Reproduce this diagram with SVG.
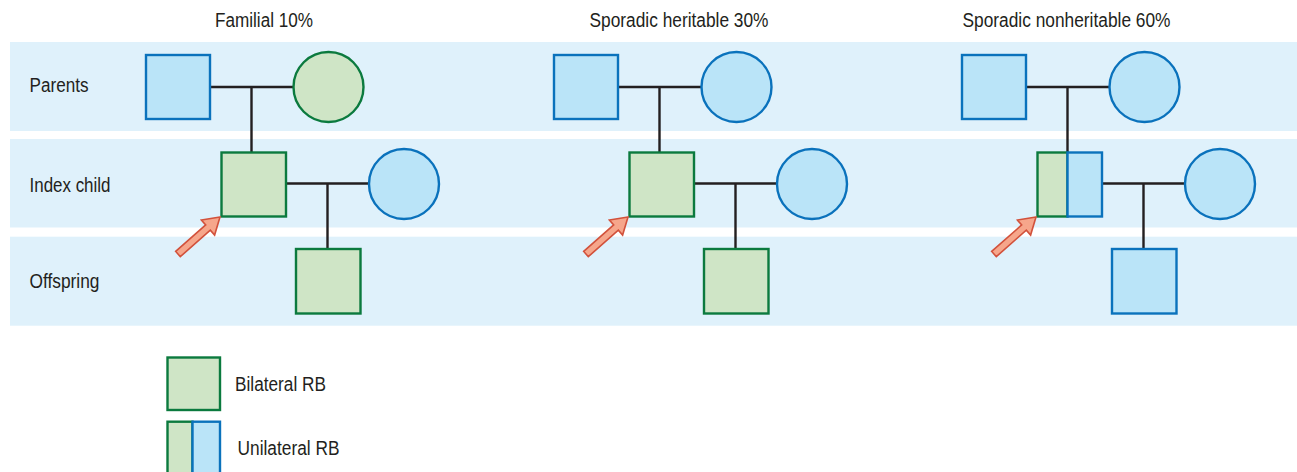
<svg xmlns="http://www.w3.org/2000/svg" width="1297" height="472" viewBox="0 0 1297 472">
<style>
.band{fill:#dff1fb}
.txt{font-family:"Liberation Sans Narrow","Liberation Sans",Arial,sans-serif;font-size:20px;fill:#231f20}
.blue{fill:#bae4f8;stroke:#0a72bc;stroke-width:2.4}
.green{fill:#cfe5c6;stroke:#0b7a3e;stroke-width:2.4}
.ln{stroke:#231f20;stroke-width:2.4;fill:none}
.arrow{fill:#f6a68b;stroke:#d2513b;stroke-width:1.6;stroke-linejoin:miter}
</style>
<defs>
<polygon id="arr" class="arrow" points="0,0 -16,-10 -16,-3.5 -56,-3.5 -56,3.5 -16,3.5 -16,10"/>
</defs>
<rect width="1297" height="472" fill="#ffffff"/>
<g id="bands">
<rect class="band" x="10" y="42" width="1287" height="89"/>
<rect class="band" x="10" y="139" width="1287" height="88.5"/>
<rect class="band" x="10" y="236.7" width="1287" height="89"/>
</g>
<g id="titles">
<text class="txt" x="215" y="26.7" textLength="98" lengthAdjust="spacingAndGlyphs">Familial 10%</text>
<text class="txt" x="589.5" y="26.7" textLength="179" lengthAdjust="spacingAndGlyphs">Sporadic heritable 30%</text>
<text class="txt" x="962.5" y="26.7" textLength="208" lengthAdjust="spacingAndGlyphs">Sporadic nonheritable 60%</text>
</g>
<g id="row-labels">
<text class="txt" x="29.5" y="91.5" textLength="59" lengthAdjust="spacingAndGlyphs">Parents</text>
<text class="txt" x="29.5" y="192" textLength="81" lengthAdjust="spacingAndGlyphs">Index child</text>
<text class="txt" x="29.5" y="288" textLength="70" lengthAdjust="spacingAndGlyphs">Offspring</text>
</g>
<g id="connectors">
<path class="ln" d="M210,87 H293.5 M251.5,87 V152.5 M286,183.5 H369 M327.5,183.5 V249"/>
<path class="ln" d="M618,87 H701.5 M659.5,87 V152.5 M694,183.5 H777 M735.5,183.5 V249"/>
<path class="ln" d="M1026,87 H1109.5 M1067.5,87 V152.5 M1102,183.5 H1185 M1143.5,183.5 V249"/>
</g>
<g id="familial">
<g id="f-father"><rect class="blue" x="146" y="55" width="64" height="64"/></g>
<g id="f-mother"><circle class="green" cx="328.5" cy="87" r="35"/></g>
<g id="f-index"><rect class="green" x="221.5" y="152.5" width="64.5" height="64"/></g>
<g id="f-spouse"><circle class="blue" cx="404" cy="184" r="35"/></g>
<g id="f-offspring"><rect class="green" x="296" y="249" width="64.5" height="64.5"/></g>
<g id="f-arrow"><use href="#arr" transform="translate(220,217) rotate(-41.4)"/></g>
</g>
<g id="sporadic-heritable">
<g id="h-father"><rect class="blue" x="554" y="55" width="64" height="64"/></g>
<g id="h-mother"><circle class="blue" cx="736.5" cy="87" r="35"/></g>
<g id="h-index"><rect class="green" x="629.5" y="152.5" width="64.5" height="64"/></g>
<g id="h-spouse"><circle class="blue" cx="812" cy="184" r="35"/></g>
<g id="h-offspring"><rect class="green" x="704" y="249" width="64.5" height="64.5"/></g>
<g id="h-arrow"><use href="#arr" transform="translate(628,217) rotate(-41.4)"/></g>
</g>
<g id="sporadic-nonheritable">
<g id="n-father"><rect class="blue" x="962" y="55" width="64" height="64"/></g>
<g id="n-mother"><circle class="blue" cx="1144.5" cy="87" r="35"/></g>
<g id="n-index"><rect class="green" x="1037.5" y="152.5" width="30" height="64"/><rect class="blue" x="1067.5" y="152.5" width="34.5" height="64"/></g>
<g id="n-spouse"><circle class="blue" cx="1220" cy="184" r="35"/></g>
<g id="n-offspring"><rect class="blue" x="1112" y="249" width="64.5" height="64.5"/></g>
<g id="n-arrow"><use href="#arr" transform="translate(1036,217) rotate(-41.4)"/></g>
</g>
<g id="legend">
<g id="legend-bilateral">
<rect class="green" x="167.5" y="357.5" width="52.5" height="52.5"/>
<text class="txt" x="235" y="390.5" textLength="91" lengthAdjust="spacingAndGlyphs">Bilateral RB</text>
</g>
<g id="legend-unilateral">
<rect class="green" x="167.5" y="421.7" width="25" height="60"/>
<rect class="blue" x="192.5" y="421.7" width="27.5" height="60"/>
<text class="txt" x="237.5" y="455" textLength="102" lengthAdjust="spacingAndGlyphs">Unilateral RB</text>
</g>
</g>
</svg>
